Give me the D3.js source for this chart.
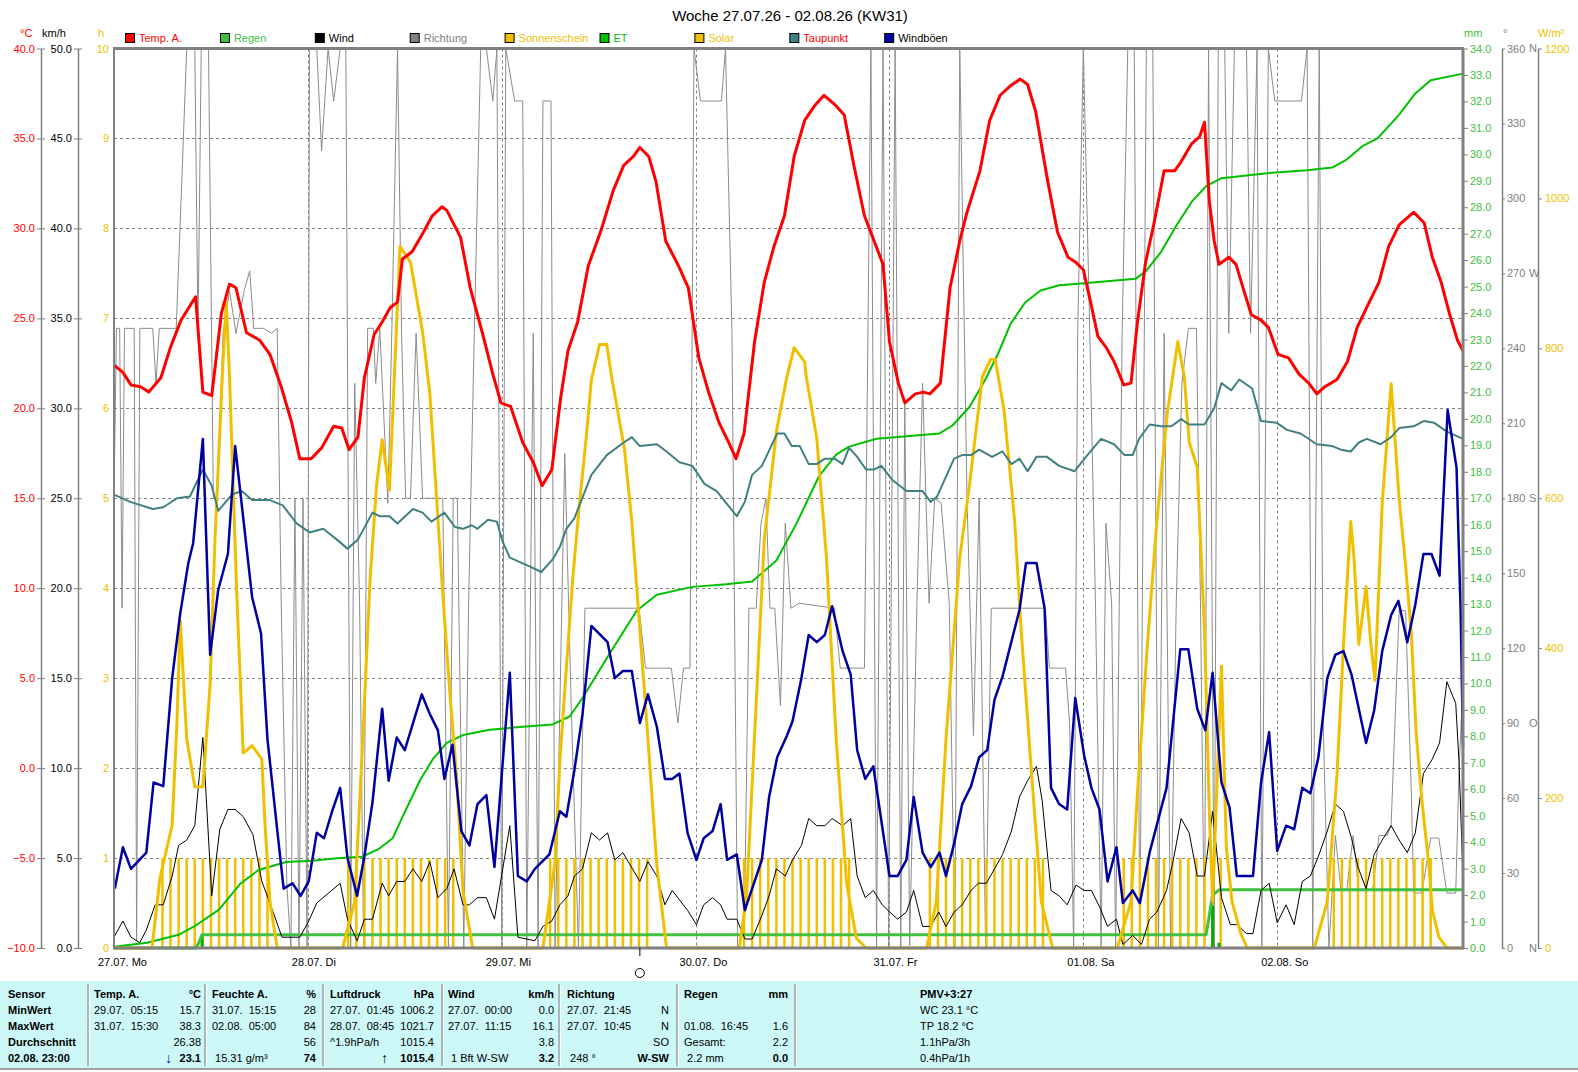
<!DOCTYPE html>
<html>
<head>
<meta charset="utf-8">
<script src="https://cdn.jsdelivr.net/npm/d3@7"></script>
<style>
body { margin: 0; background: #fff; }
svg { display: block; font-family: "Liberation Sans", Arial, sans-serif; font-size: 11px; }
text { white-space: pre; }
</style>
</head>
<body>
<svg id="chart" width="1578" height="1072"></svg>
<script>
// ---- chart values (hours since 27.07. 00:00) ----
var dayLabels = ['27.07. Mo', '28.07. Di', '29.07. Mi', '30.07. Do', '31.07. Fr', '01.08. Sa', '02.08. So'];
var legendNames = ['Temp. A.', 'Regen', 'Wind', 'Richtung', 'Sonnenschein', 'ET', 'Solar', 'Taupunkt', 'Windböen'];
var tempTicks = [-10, -5, 0, 5, 10, 15, 20, 25, 30, 35, 40];
var kmhTicks = [0, 5, 10, 15, 20, 25, 30, 35, 40, 45, 50];
var sunTicks = [0, 1, 2, 3, 4, 5, 6, 7, 8, 9, 10];
var mmTicks = d3.range(0, 35);
var degTicks = [0, 30, 60, 90, 120, 150, 180, 210, 240, 270, 300, 330, 360];
var compass = {0: 'N', 90: 'O', 180: 'S', 270: 'W', 360: 'N'};
var solarTicks = [0, 200, 400, 600, 800, 1000, 1200];
var markerHours = [65.1];

// Temp. A. (°C)
var tempData = [[0,22.4],[1.1,22.0],[2.1,21.3],[3.3,21.2],[4.3,20.9],[5.8,21.7],[7.0,23.4],[8.3,24.9],[10.1,26.2],[11.0,20.9],[12.1,20.7],[13.3,25.3],[14.3,26.9],[15.1,26.7],[16.4,24.2],[18.0,23.8],[19.3,23.0],[20.7,21.2],[22.0,19.2],[23.0,17.2],[24.4,17.2],[25.7,17.8],[27.2,19.0],[28.2,18.9],[29.1,17.7],[30.2,18.4],[31.0,21.7],[32.2,24.1],[33.2,24.8],[34.2,25.6],[35.1,25.9],[35.7,28.3],[36.9,28.7],[38.2,29.7],[39.4,30.7],[40.6,31.2],[41.2,31.0],[42.9,29.5],[44.1,26.7],[45.6,24.2],[46.9,21.9],[47.9,20.3],[49.1,20.1],[50.6,18.1],[51.9,17.0],[53.0,15.7],[54.2,16.6],[55.3,20.6],[56.2,23.2],[57.4,24.8],[58.7,27.9],[60.3,29.9],[61.8,32.1],[63.1,33.5],[64.3,34.0],[65.1,34.5],[66.2,34.0],[67.1,32.6],[68.3,29.3],[69.9,27.9],[71.1,26.7],[72.4,22.8],[73.6,20.9],[74.9,19.2],[76.1,18.1],[77.0,17.2],[78.0,18.6],[79.3,23.7],[80.5,27.0],[81.7,29.0],[83.0,30.7],[84.2,34.0],[85.5,36.0],[86.7,36.8],[87.9,37.4],[89.2,36.9],[90.4,36.3],[91.6,33.5],[92.9,30.7],[94.1,29.3],[95.2,28.0],[96.0,23.7],[97.1,21.4],[97.9,20.3],[99.2,20.8],[100.2,20.9],[101.0,20.8],[102.3,21.4],[103.5,26.7],[104.7,29.3],[105.6,30.9],[107.2,33.2],[108.4,36.0],[109.7,37.4],[110.9,37.9],[112.2,38.3],[113.1,38.0],[114.1,36.5],[115.6,32.6],[116.8,29.8],[118.1,28.4],[119.1,28.1],[120.0,27.7],[120.9,25.9],[121.8,24.0],[122.8,23.4],[123.8,22.6],[125.0,21.3],[125.9,21.4],[126.7,24.8],[127.7,28.1],[128.8,30.4],[130.0,33.2],[131.3,33.2],[132.1,33.7],[133.4,34.7],[134.4,35.1],[135.0,35.9],[135.6,31.5],[136.2,29.3],[136.8,28.0],[138.0,28.4],[138.9,28.0],[139.9,26.5],[140.8,25.2],[142.0,24.9],[142.9,24.5],[144.1,23.0],[145.4,22.8],[146.7,21.9],[147.9,21.4],[148.9,20.8],[149.9,21.2],[151.4,21.6],[152.7,22.6],[153.9,24.5],[155.4,25.9],[156.6,27.0],[157.8,29.0],[159.1,30.2],[160.9,30.9],[162.2,30.3],[163.2,28.4],[164.3,27.0],[165.3,25.3],[166.3,23.8],[167,23.2]];

// Taupunkt (°C)
var dewData = [[0,15.2],[2.0,14.8],[4.8,14.4],[6.1,14.5],[7.8,15.0],[9.4,15.1],[11.0,16.6],[12.1,15.7],[12.9,14.3],[14.6,15.2],[15.8,15.4],[17.1,14.9],[19.3,14.9],[20.9,14.6],[22.6,13.6],[24.2,13.1],[25.9,13.3],[27.6,12.7],[28.9,12.2],[30.2,12.7],[32.0,14.2],[32.9,14.0],[34.1,14.0],[35.1,13.6],[37.0,14.4],[38.2,14.2],[39.3,13.7],[40.9,14.2],[42.2,13.4],[43.2,13.3],[44.3,13.5],[45.0,13.3],[46.3,13.8],[47.4,13.7],[48.1,12.6],[49.0,11.7],[51.5,11.2],[52.9,10.9],[54.3,11.6],[55.2,12.3],[56.0,13.3],[57.0,13.9],[59.1,16.3],[61.0,17.4],[62.8,18.0],[64.1,18.4],[65.1,17.9],[67.2,18.0],[68.4,17.6],[70.0,17.0],[71.6,16.8],[73.1,15.8],[74.6,15.4],[77.1,14.0],[78.1,14.8],[79.0,16.3],[80.2,16.8],[82.1,18.6],[83.0,18.6],[83.9,17.9],[84.9,17.9],[86.0,16.9],[87.0,16.9],[88.0,17.2],[89.2,17.2],[90.2,16.9],[91.0,17.8],[92.0,17.3],[93.1,16.6],[94.1,16.6],[95.0,16.8],[96.4,16.0],[98.1,15.4],[100.1,15.4],[101.1,14.8],[101.9,15.1],[104.0,17.2],[105.0,17.4],[106.1,17.4],[107.1,17.7],[108.7,17.3],[110.0,17.6],[111.1,16.9],[112.1,17.2],[113.1,16.5],[114.2,17.3],[115.5,17.3],[117.0,16.8],[118.9,16.5],[120.5,17.4],[122.2,18.3],[123.8,18.0],[125.1,17.4],[126.1,17.4],[126.9,18.3],[128.2,19.1],[129.6,19.0],[130.9,19.0],[132.1,19.4],[133.1,19.1],[135.0,19.1],[136.2,20.0],[137.1,21.4],[138.3,21.0],[139.3,21.6],[140.9,21.1],[142.0,19.3],[143.9,19.2],[145.2,18.8],[146.9,18.6],[148.9,18.0],[150.8,17.9],[151.9,17.7],[153.1,17.6],[154.1,18.1],[155.1,18.3],[156.8,18.0],[158.1,18.4],[159.1,18.9],[160.9,19.0],[162.2,19.3],[163.4,19.2],[165.0,18.7],[167,18.3]];

// Windböen (km/h)
var gustData = [[0.1,3.3],[1.1,5.6],[2.1,4.4],[4.0,5.3],[4.9,9.2],[6.1,9.0],[7.2,15.0],[8.2,18.6],[9.2,21.4],[9.8,22.5],[11.0,28.3],[11.9,16.3],[12.9,19.9],[14.1,21.9],[15.0,27.9],[17.1,19.5],[18.2,17.5],[19.0,11.6],[20.2,6.6],[21.0,3.3],[22.1,3.6],[23.1,2.9],[24.1,3.7],[25.1,6.4],[26.0,6.1],[27.0,7.6],[28.0,8.9],[28.9,5.0],[30.1,2.9],[31.0,5.1],[32.0,8.1],[33.2,13.3],[34.0,9.3],[35.0,11.7],[36.0,11.0],[38.1,14.1],[39.1,13.0],[40.1,12.1],[40.9,9.4],[41.9,11.3],[43.0,6.5],[44.0,5.7],[45.0,8.0],[46.1,8.5],[47.1,4.5],[49.0,15.3],[50.0,4.0],[51.1,3.7],[52.1,4.4],[53.9,5.2],[55.2,7.6],[56.0,7.3],[57.0,9.9],[58.0,13.0],[59.1,17.9],[61.1,17.0],[62.0,15.0],[63.0,15.4],[64.1,15.4],[65.1,12.5],[66.1,14.1],[67.2,12.3],[68.2,9.4],[69.1,9.4],[70.0,9.7],[71.0,6.4],[72.1,4.9],[73.0,6.1],[74.1,6.5],[75.1,8.0],[75.9,4.9],[77.1,5.2],[78.1,2.1],[80.2,4.9],[81.1,8.4],[82.1,10.6],[83.3,11.8],[84.0,12.6],[85.1,15.0],[86.0,17.4],[87.0,17.0],[88.0,17.4],[88.9,19.0],[90.2,16.5],[91.2,15.2],[92.0,11.0],[93.0,9.4],[94.0,10.1],[96.0,4.0],[97.0,4.0],[98.1,4.9],[99.0,8.4],[100.1,5.3],[101.1,4.5],[102.2,5.3],[103.0,4.0],[104.0,5.8],[105.0,8.0],[106.1,9.0],[107.1,10.6],[108.1,11.0],[109.0,13.8],[110.0,15.1],[112.1,18.8],[112.9,21.4],[114.2,21.4],[115.2,18.9],[116.0,8.9],[117.0,8.0],[118.0,7.7],[119.0,13.9],[120.1,10.7],[121.0,8.9],[122.0,7.7],[123.0,3.7],[124.1,5.6],[124.9,2.5],[126.1,3.2],[127.0,2.5],[128.2,5.3],[130.3,8.9],[132.0,16.6],[133.0,16.6],[134.1,13.3],[135.1,12.1],[136.0,15.3],[137.1,9.2],[138.1,7.8],[139.0,4.0],[141.0,4.0],[142.0,9.2],[143.0,12.0],[144.0,5.4],[145.1,6.8],[146.1,6.6],[147.1,8.9],[148.1,8.6],[149.1,10.6],[150.2,15.0],[151.2,16.3],[152.2,16.5],[153.2,15.2],[155.0,11.4],[156.0,13.2],[157.0,16.5],[158.1,18.5],[159.0,19.3],[160.1,17.0],[161.1,19.1],[162.1,21.9],[163.1,21.9],[164.1,20.7],[165.1,29.9],[166.2,26.7],[166.7,18.9],[167,11.2]];

// Wind (km/h)
var windData = [[0,0.6],[1.1,1.5],[2.1,0.6],[3.2,0.3],[4.0,1.0],[5.1,2.4],[6.1,2.4],[7.2,4.0],[8.0,5.7],[9.0,6.0],[10.0,6.8],[11.0,11.7],[12.1,2.9],[13.1,6.6],[14.1,7.7],[15.0,7.7],[16.0,7.3],[17.2,6.3],[18.3,3.7],[19.3,2.5],[20.8,0.6],[23.0,0.6],[24.0,1.4],[25.1,2.5],[28.0,3.6],[28.9,1.6],[30.1,0.4],[31.0,1.6],[32.0,1.6],[33.2,3.6],[34.0,2.9],[35.0,3.7],[36.0,3.7],[37.0,4.4],[38.1,3.7],[39.1,4.8],[40.1,2.8],[41.2,3.3],[42.1,4.4],[43.2,2.4],[44.0,2.4],[45.0,2.8],[46.1,2.8],[47.1,1.6],[49.0,6.8],[50.0,0.6],[52.1,0.4],[53.1,1.2],[54.2,1.5],[55.2,2.4],[56.2,2.9],[57.0,4.0],[58.0,4.4],[59.1,6.4],[60.1,6.0],[61.1,6.4],[62.0,4.9],[63.0,5.3],[65.1,3.7],[66.1,4.8],[67.2,4.0],[68.2,2.4],[69.1,3.2],[71.0,2.1],[72.1,1.3],[73.0,2.4],[74.1,2.8],[75.1,2.4],[75.9,1.6],[77.1,1.6],[78.1,0.5],[79.0,0.5],[80.2,1.8],[81.1,2.9],[82.0,4.4],[83.1,4.0],[84.0,4.9],[85.1,5.7],[86.0,7.2],[87.0,6.8],[88.0,6.8],[88.9,7.2],[90.2,6.8],[91.2,7.2],[92.0,4.0],[93.0,2.8],[94.0,3.2],[95.1,2.4],[97.0,1.6],[98.1,2.0],[99.0,3.2],[100.1,1.2],[101.1,1.2],[102.1,2.0],[103.0,1.2],[104.0,2.0],[105.0,2.4],[106.1,3.2],[107.0,3.6],[108.0,3.6],[109.0,4.4],[110.0,5.2],[111.1,6.5],[112.1,8.4],[113.1,9.3],[114.2,10.1],[114.9,8.2],[116.0,3.2],[117.0,2.9],[118.0,2.4],[119.1,3.5],[120.1,3.2],[121.0,3.2],[122.1,2.2],[123.0,1.2],[124.1,1.6],[124.9,0.2],[126.1,0.7],[127.2,0.2],[128.2,1.6],[129.1,2.0],[130.3,3.2],[131.1,4.8],[132.1,7.2],[133.1,6.4],[134.1,4.0],[135.0,4.0],[136.0,7.6],[137.1,2.8],[138.2,1.3],[139.0,1.3],[140.2,0.8],[141.0,0.8],[142.0,3.2],[143.0,3.6],[144.0,1.4],[145.1,2.4],[146.1,1.3],[147.1,3.7],[148.1,4.0],[149.1,5.1],[150.2,6.5],[151.2,8.0],[152.2,7.6],[153.2,6.1],[154.0,4.5],[155.0,3.3],[156.0,5.2],[157.0,6.0],[158.1,6.8],[159.1,6.0],[160.1,5.3],[161.1,6.4],[162.1,9.7],[163.2,10.5],[164.1,11.4],[165.0,14.8],[166.1,13.6],[166.5,10.4],[167,3.9]];

// Richtung (°)
var dirData = [[0,180],[0.3,248],[0.7,248],[1.0,136],[1.3,248],[2.5,248],[2.8,3],[3.2,248],[4.8,248],[5.2,226],[5.6,248],[7.7,248],[8.3,299],[9.0,360],[10.0,360],[10.4,246],[10.8,360],[11.7,360],[12.3,180],[12.8,180],[13.5,246],[14.3,263],[15.1,246],[16.1,263],[16.8,271],[17.3,248],[18.5,248],[19.5,246],[20.2,248],[20.7,138],[21.4,25],[21.9,0],[22.4,180],[22.9,0],[23.4,180],[23.9,0],[24.2,360],[25.1,360],[25.7,319],[26.5,360],[27.2,339],[28.0,360],[28.7,360],[29.3,0],[29.8,226],[30.4,138],[30.9,1],[31.4,248],[32.1,248],[32.4,226],[32.9,248],[33.9,178],[34.4,248],[35.1,360],[35.6,246],[36.1,180],[36.7,180],[37.4,246],[38.2,180],[40.7,180],[41.4,0],[42.0,180],[42.5,180],[43.3,0],[43.9,138],[44.6,246],[45.4,360],[46.1,360],[46.9,339],[47.4,360],[48.0,0],[48.5,360],[49.6,339],[50.6,339],[51.1,0],[51.9,246],[52.5,0],[53.1,339],[54.1,339],[54.6,0],[55.2,97],[55.8,198],[56.6,97],[57.5,0],[58.3,136],[58.9,136],[64.5,136],[65.0,136],[65.8,112],[69.0,112],[69.8,90],[70.5,112],[71.3,112],[71.8,360],[72.6,339],[75.2,339],[75.7,360],[76.5,246],[77.2,0],[78.0,0],[78.6,136],[79.5,136],[80.1,170],[80.7,180],[81.2,136],[81.8,136],[82.5,97],[83.1,170],[83.8,136],[84.8,138],[89.2,136],[89.9,112],[92.9,112],[93.7,360],[94.4,0],[95.2,360],[95.9,0],[96.7,360],[97.4,0],[97.9,218],[98.5,1],[99.4,138],[100.1,226],[100.9,138],[101.6,180],[102.4,178],[103.4,138],[104.1,0],[104.7,360],[105.6,180],[106.4,85],[107.1,180],[107.9,0],[108.6,136],[110.3,136],[115.3,136],[115.8,112],[117.8,112],[118.3,90],[118.8,0],[119.3,246],[120.0,360],[120.8,246],[121.5,138],[122.2,0],[122.8,170],[123.5,138],[124.0,0],[124.8,246],[125.5,360],[126.3,360],[127.0,0],[127.8,360],[128.6,360],[129.3,0],[130.0,246],[130.8,0],[131.5,138],[132.2,226],[133.0,248],[134.0,248],[134.5,138],[135.0,0],[135.5,360],[136.2,0],[136.7,360],[137.5,360],[138.0,246],[138.7,360],[140.2,360],[140.7,246],[141.5,360],[142.1,0],[142.9,360],[143.7,339],[147.0,339],[147.7,360],[148.4,0],[149.2,360],[149.7,89],[150.4,0],[151.2,45],[151.9,23],[152.6,23],[153.4,45],[154.1,23],[155.8,23],[156.6,45],[157.6,45],[158.1,49],[159.1,135],[159.9,135],[160.6,62],[160.9,22],[161.9,22],[163.0,44],[164.0,44],[165.0,22],[166.1,22],[166.5,70],[167,107]];

// Solar (W/m²)
var solarData = [[0,0],[4.7,0],[5.7,94],[7.2,164],[7.8,303],[8.2,437],[9.0,279],[10.0,215],[11.0,215],[11.9,352],[12.5,545],[13.4,762],[13.9,862],[14.3,762],[15.2,472],[16.0,260],[17.1,270],[18.3,252],[18.7,164],[19.3,62],[20.2,0],[28.3,0],[29.8,62],[30.8,279],[31.7,492],[32.5,617],[33.2,678],[34.1,611],[35.4,936],[36.7,915],[38.2,822],[39.1,740],[40.7,472],[41.6,337],[42.4,231],[43.2,76],[44.4,0],[53.1,0],[54.6,115],[55.2,250],[56.0,374],[56.8,494],[57.6,590],[58.5,686],[59.1,758],[60.1,805],[61.0,805],[61.6,762],[63.2,665],[64.1,569],[65.1,424],[66.1,279],[67.2,110],[68.4,0],[77.4,0],[78.3,67],[79.5,327],[80.5,545],[82.0,689],[83.3,762],[84.2,801],[85.5,782],[85.7,762],[87.0,680],[88.2,521],[89.4,279],[90.7,86],[91.9,13],[93.1,0],[100.6,0],[101.8,62],[103.0,279],[104.7,521],[105.9,617],[107.5,762],[108.5,785],[109.1,785],[110.2,716],[111.5,569],[112.3,424],[113.6,231],[114.8,62],[116.2,0],[124.2,0],[125.9,62],[126.7,207],[127.9,400],[129.1,569],[130.4,714],[131.7,809],[132.5,762],[133.1,675],[134.1,641],[135.0,424],[135.6,182],[136.0,62],[137.1,376],[137.7,134],[138.4,62],[139.5,19],[140.3,0],[148.6,0],[150.2,62],[151.4,231],[152.3,424],[153.1,569],[153.5,521],[154.1,405],[155.0,482],[155.6,405],[156.1,357],[157.0,593],[158.1,753],[159.1,598],[159.9,509],[160.6,420],[161.2,287],[161.9,198],[162.8,108],[163.2,51],[164.0,15],[165.0,0],[167,0]];

// ET (mm, cumulative)
var etData = [[0,0.05],[4.1,0.2],[8.0,0.5],[10.1,0.85],[13.0,1.45],[15.7,2.45],[17.9,2.95],[21.3,3.25],[24.5,3.3],[28.0,3.4],[30.7,3.45],[32.8,3.75],[34.5,4.15],[35.7,4.95],[37.9,6.35],[39.5,7.15],[41.2,7.75],[43.2,8.05],[46.5,8.25],[50.2,8.35],[54.3,8.45],[56.4,8.75],[58.0,9.45],[61.4,11.15],[64.7,12.75],[67.2,13.35],[71.6,13.65],[75.8,13.75],[79.0,13.85],[82.0,14.65],[84.5,16.05],[87.3,17.85],[89.4,18.65],[91.0,18.95],[94.4,19.25],[98.5,19.35],[102.2,19.45],[103.8,19.75],[105.9,20.45],[107.8,21.45],[109.5,22.5],[111.0,23.6],[112.8,24.4],[114.7,24.85],[117.0,25.05],[119.0,25.1],[126.5,25.3],[127.8,25.6],[129.6,26.3],[131.5,27.3],[133.4,28.2],[135.2,28.8],[137.1,29.1],[140.2,29.2],[143.3,29.3],[147.7,29.4],[150.8,29.5],[152.6,29.8],[154.5,30.3],[156.4,30.6],[158.2,31.2],[159.1,31.5],[161.1,32.3],[163.0,32.8],[167,33.05]];

// Regen (mm): cumulative line and single bars
var rainSum = [[0,0],[10.2,0],[10.9,0.5],[135.2,0.5],[136.0,2.0],[136.8,2.2],[167,2.2]];
var rainBars = [[10.9,0.5],[136.0,1.6],[136.8,0.2]];

// Sonnenschein (h per hour)
var sunshine = [
  [6,1],[7,1],[8,1],[9,1],[10,1],[11,1],[12,1],[13,1],[14,1],[15,1],[16,1],[17,1],[18,1],[19,1],
  [29,1],[30,1],[31,1],[32,1],[33,1],[34,1],[35,1],[36,1],[37,1],[38,1],[39,1],[40,1],[41,1],[42,1],
  [54,1],[55,1],[56,1],[57,1],[58,1],[59,1],[60,1],[61,1],[62,1],[63,1],[64,1],[65,1],[66,1],
  [78,1],[79,1],[80,1],[81,1],[82,1],[83,1],[84,1],[85,1],[86,1],[87,1],[88,1],[89,1],[90,1],[91,1],
  [101,1],[102,1],[103,1],[104,1],[105,1],[106,1],[107,1],[108,1],[109,1],[110,1],[111,1],[112,1],[113,1],[114,1],[115,1],
  [125,1],[126,1],[127,1],[128,1],[129,1],[130,1],[131,1],[132,1],[133,1],[134,1],[135,1],[136,1],[137,1],
  [151,1],[152,1],[153,1],[154,1],[155,1],[156,1],[157,1],[158,1],[159,1],[160,1],[161,1],[162,1],[163,1]
];

// summary table, one array per column: [left text, right text]
var colSensor = ['Sensor', 'MinWert', 'MaxWert', 'Durchschnitt', '02.08. 23:00'];
var colTemp = [['Temp. A.', '°C'], ['29.07.  05:15', '15.7'], ['31.07.  15:30', '38.3'], ['', '26.38'], ['', '23.1']];
var colHum = [['Feuchte A.', '%'], ['31.07.  15:15', '28'], ['02.08.  05:00', '84'], ['', '56'], [' 15.31 g/m³', '74']];
var colPress = [['Luftdruck', 'hPa'], ['27.07.  01:45', '1006.2'], ['28.07.  08:45', '1021.7'], ['^1.9hPa/h', '1015.4'], ['', '1015.4']];
var colWind = [['Wind', 'km/h'], ['27.07.  00:00', '0.0'], ['27.07.  11:15', '16.1'], ['', '3.8'], [' 1 Bft W-SW', '3.2']];
var colDir = [['Richtung', ''], ['27.07.  21:45', 'N'], ['27.07.  10:45', 'N'], ['', 'SO'], [' 248 °', 'W-SW']];
var colRain = [['Regen', 'mm'], ['', ''], ['01.08.  16:45', '1.6'], ['Gesamt:', '2.2'], [' 2.2 mm', '0.0']];
var colExtra = ['PMV+3:27', 'WC 23.1 °C', 'TP 18.2 °C', '1.1hPa/3h', '0.4hPa/1h'];

// ---- scales ----
var svg = d3.select('#chart');
var plotL = 114, plotR = 1463, plotT = 48.5, plotB = 948;
var x = d3.scaleLinear().domain([0, 167]).range([plotL, plotR]);
var yTemp = d3.scaleLinear().domain([-10, 40]).range([plotB, plotT]);
var yKmh = d3.scaleLinear().domain([0, 50]).range([plotB, plotT]);
var ySun = d3.scaleLinear().domain([0, 10]).range([plotB, plotT]);
var yMm = d3.scaleLinear().domain([0, 34]).range([plotB, plotT]);
var yDeg = d3.scaleLinear().domain([0, 360]).range([plotB, plotT]);
var ySol = d3.scaleLinear().domain([0, 1200]).range([plotB, plotT]);

svg.append('rect').attr('width', 1578).attr('height', 1072).attr('fill', '#fff');

// grid
var grid = svg.append('g').attr('stroke', '#808080').attr('stroke-dasharray', '3,3');
tempTicks.slice(1, -1).forEach(function(t) {
  grid.append('line').attr('x1', plotL).attr('x2', plotR).attr('y1', Math.round(yTemp(t)) + 0.5).attr('y2', Math.round(yTemp(t)) + 0.5);
});
dayLabels.slice(1).forEach(function(d, i) {
  var xx = Math.round(x((i + 1) * 24)) + 0.5;
  grid.append('line').attr('x1', xx).attr('x2', xx).attr('y1', plotT).attr('y2', plotB);
});

function drawLine(data, yScale, color, width) {
  svg.append('path').datum(data)
    .attr('fill', 'none').attr('stroke', color).attr('stroke-width', width)
    .attr('stroke-linejoin', 'round')
    .attr('d', d3.line().x(function(d) { return x(d[0]); }).y(function(d) { return yScale(d[1]); }));
}

// series, back to front
drawLine(dirData, yDeg, '#8c8c8c', 1);

svg.append('g').selectAll('line').data(sunshine).enter().append('line')
  .attr('x1', function(d) { return x(d[0]); }).attr('x2', function(d) { return x(d[0]); })
  .attr('y1', plotB).attr('y2', function(d) { return ySun(d[1]); })
  .attr('stroke', '#f0c000').attr('stroke-width', 2.5);

svg.append('g').selectAll('line').data(rainBars).enter().append('line')
  .attr('x1', function(d) { return x(d[0]); }).attr('x2', function(d) { return x(d[0]); })
  .attr('y1', plotB).attr('y2', function(d) { return yMm(d[1]); })
  .attr('stroke', '#00b000').attr('stroke-width', 3);
drawLine(rainSum, yMm, '#40c040', 3);

drawLine(windData, yKmh, '#000', 1);
drawLine(etData, yMm, '#00c000', 2);
drawLine(solarData, ySol, '#f0c000', 3);
drawLine(dewData, yTemp, '#408080', 2);
drawLine(gustData, yKmh, '#0000a0', 2.5);
drawLine(tempData, yTemp, '#ff0000', 3);

// plot frame
var frame = svg.append('g').attr('stroke', '#808080');
frame.append('line').attr('x1', plotL - 1).attr('x2', plotR + 1).attr('y1', plotT).attr('y2', plotT).attr('stroke-width', 3);
frame.append('line').attr('x1', plotL - 1).attr('x2', plotR + 1).attr('y1', plotB).attr('y2', plotB).attr('stroke-width', 3);
frame.append('line').attr('x1', plotL).attr('x2', plotL).attr('y1', plotT).attr('y2', plotB).attr('stroke-width', 2);
frame.append('line').attr('x1', plotR).attr('x2', plotR).attr('y1', plotT).attr('y2', plotB).attr('stroke-width', 3);

// axes
function styleAxis(g, color, cross) {
  g.select('.domain').attr('stroke', '#808080').attr('stroke-width', 1.5);
  g.selectAll('.tick line').attr('stroke', '#808080').attr('x1', cross);
  g.selectAll('.tick text').attr('fill', color).style('font-size', '11px')
    .style('font-family', '"Liberation Sans", Arial, sans-serif');
}
var f1 = d3.format('.1f');
svg.append('g').attr('transform', 'translate(41,0)')
  .call(d3.axisLeft(yTemp).tickValues(tempTicks).tickFormat(f1).tickSize(4).tickSizeOuter(0).tickPadding(2))
  .call(styleAxis, '#ff0000', 4);
svg.append('g').attr('transform', 'translate(78,0)')
  .call(d3.axisLeft(yKmh).tickValues(kmhTicks).tickFormat(f1).tickSize(4).tickSizeOuter(0).tickPadding(2))
  .call(styleAxis, '#000', 4);
svg.append('g').attr('transform', 'translate(' + plotL + ',0)')
  .call(d3.axisLeft(ySun).tickValues(sunTicks).tickFormat(d3.format('d')).tickSize(0).tickSizeOuter(0).tickPadding(5))
  .call(styleAxis, '#f0c000', 0)
  .select('.domain').remove();
svg.append('g').attr('transform', 'translate(' + plotR + ',0)')
  .call(d3.axisRight(yMm).tickValues(mmTicks).tickFormat(f1).tickSize(5).tickSizeOuter(0).tickPadding(2))
  .call(styleAxis, '#40c040', 0)
  .select('.domain').remove();
svg.append('g').attr('transform', 'translate(1502,0)')
  .call(d3.axisRight(yDeg).tickValues(degTicks).tickFormat(d3.format('d')).tickSize(3).tickSizeOuter(0).tickPadding(2))
  .call(styleAxis, '#808080', 0);
svg.append('g').selectAll('text').data(degTicks.filter(function(d) { return compass[d]; })).enter().append('text')
  .attr('x', 1529).attr('y', function(d) { return yDeg(d); }).attr('dy', '0.32em')
  .attr('fill', '#808080').text(function(d) { return compass[d]; });
svg.append('g').attr('transform', 'translate(1538,0)')
  .call(d3.axisRight(ySol).tickValues(solarTicks).tickFormat(d3.format('d')).tickSize(4).tickSizeOuter(0).tickPadding(3))
  .call(styleAxis, '#f0c000', 0);

// unit labels
var units = [['°C', 20, '#ff0000'], ['km/h', 42, '#000'], ['h', 98, '#f0c000'],
             ['mm', 1464, '#40c040'], ['°', 1503, '#808080'], ['W/m²', 1538, '#f0c000']];
svg.append('g').selectAll('text').data(units).enter().append('text')
  .attr('x', function(d) { return d[1]; }).attr('y', 37)
  .attr('fill', function(d) { return d[2]; }).text(function(d) { return d[0]; });

// title
svg.append('text').attr('x', 790).attr('y', 21).attr('text-anchor', 'middle')
  .style('font-size', '15px').text('Woche 27.07.26 - 02.08.26 (KW31)');

// legend
var legendFill = ['#ff0000', '#40c040', '#000000', '#808080', '#f0c000', '#00c000', '#f0c000', '#408080', '#0000a0'];
var legendText = ['#ff0000', '#40c040', '#000000', '#808080', '#f0c000', '#00c000', '#f0c000', '#ff0000', '#000000'];
var leg = svg.append('g').selectAll('g').data(legendNames).enter().append('g')
  .attr('transform', function(d, i) { return 'translate(' + (125 + i * 94.9) + ',33)'; });
leg.append('rect').attr('x', 0.5).attr('y', 0.5).attr('width', 9).attr('height', 9)
  .attr('fill', function(d, i) { return legendFill[i]; }).attr('stroke', '#000');
leg.append('text').attr('x', 14).attr('y', 9)
  .attr('fill', function(d, i) { return legendText[i]; }).text(function(d) { return d; });

// day labels
svg.append('g').selectAll('text').data(dayLabels).enter().append('text')
  .attr('x', function(d, i) { return x(i * 24) - 16; }).attr('y', 966).text(function(d) { return d; });

// marker below the axis
markerHours.forEach(function(h) {
  svg.append('line').attr('x1', x(h)).attr('x2', x(h)).attr('y1', plotB).attr('y2', plotB + 8).attr('stroke', '#000');
  svg.append('circle').attr('cx', x(h)).attr('cy', 973).attr('r', 4.5).attr('fill', '#fff').attr('stroke', '#000');
});

// summary table
svg.append('rect').attr('x', 0).attr('y', 981).attr('width', 1578).attr('height', 87).attr('fill', '#ccf8f8');
svg.append('line').attr('x1', 0).attr('x2', 1578).attr('y1', 1069).attr('y2', 1069).attr('stroke', '#a0a0a0').attr('stroke-width', 2);
[88, 205, 323, 442, 559, 677, 795].forEach(function(sx) {
  svg.append('line').attr('x1', sx).attr('x2', sx).attr('y1', 984).attr('y2', 1066).attr('stroke', '#a0a0a0').attr('stroke-width', 1.5);
  svg.append('line').attr('x1', sx + 1.5).attr('x2', sx + 1.5).attr('y1', 984).attr('y2', 1066).attr('stroke', '#fff').attr('stroke-width', 1);
});
var rowY = [998, 1014, 1030, 1046, 1062];
var tbl = svg.append('g');
colSensor.forEach(function(t, i) {
  tbl.append('text').attr('x', 8).attr('y', rowY[i]).attr('font-weight', 'bold').text(t);
});
function tableColumn(col, lx, rx) {
  col.forEach(function(r, i) {
    var bold = i === 0;
    tbl.append('text').attr('x', lx).attr('y', rowY[i]).attr('font-weight', bold ? 'bold' : 'normal').text(r[0]);
    tbl.append('text').attr('x', rx).attr('y', rowY[i]).attr('text-anchor', 'end')
      .attr('font-weight', (bold || i === 4) ? 'bold' : 'normal').text(r[1]);
  });
}
tableColumn(colTemp, 94, 201);
tableColumn(colHum, 212, 316);
tableColumn(colPress, 330, 434);
tableColumn(colWind, 448, 554);
tableColumn(colDir, 567, 669);
tableColumn(colRain, 684, 788);
// trend arrows
tbl.append('text').attr('x', 165).attr('y', rowY[4] + 1).attr('fill', '#0000ff').attr('font-weight', 'bold')
  .style('font-size', '14px').text('↓');
tbl.append('text').attr('x', 381).attr('y', rowY[4] + 1).attr('fill', '#000').attr('font-weight', 'bold')
  .style('font-size', '14px').text('↑');
colExtra.forEach(function(t, i) {
  tbl.append('text').attr('x', 920).attr('y', rowY[i]).attr('font-weight', i === 0 ? 'bold' : 'normal').text(t);
});
</script>
</body>
</html>
